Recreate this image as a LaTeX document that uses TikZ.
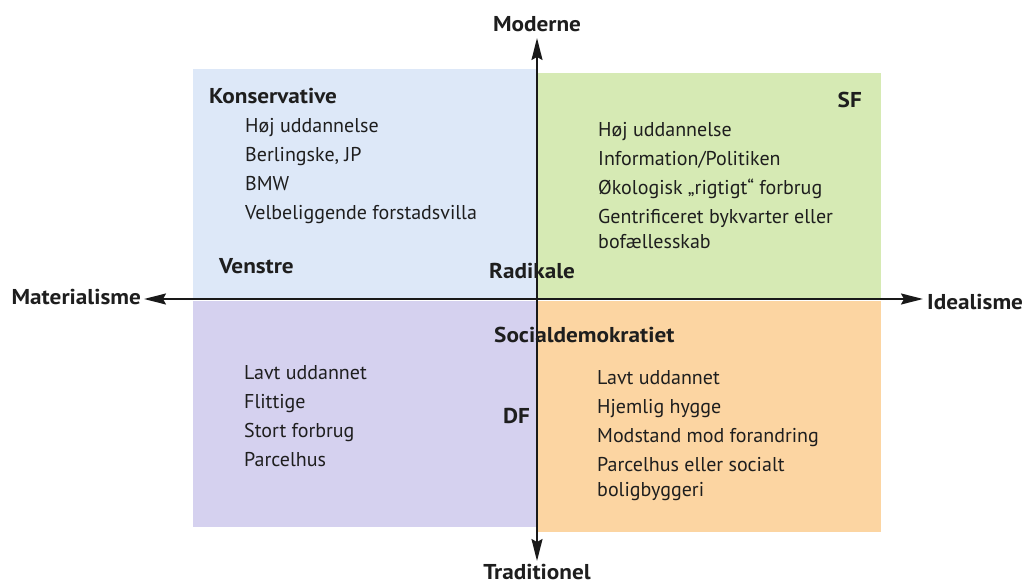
\documentclass[tikz,border=0pt]{standalone}
\usepackage{fontspec}
\setmainfont{PT Sans}[BoldFeatures={FakeStretch=1.08}]
\usetikzlibrary{arrows.meta}
\definecolor{qblue}{RGB}{221,232,248}
\definecolor{qgreen}{RGB}{214,234,180}
\definecolor{qpurple}{RGB}{213,209,239}
\definecolor{qorange}{RGB}{252,213,162}
\definecolor{txt}{RGB}{30,30,30}
\begin{document}
\begin{tikzpicture}[x=1pt,y=-1pt,
  quad/.style={draw=none,anchor=north west,inner sep=0pt},
  item/.style={anchor=base west,inner sep=0pt,align=left,text=txt,font=\fontsize{20}{29}\selectfont},
  head/.style={anchor=base west,inner sep=0pt,text=txt,font=\fontsize{21.5}{29}\selectfont\bfseries},
  axis/.style={line width=1.8pt,draw=black!90,{Stealth[length=22pt,width=11pt,inset=3pt]}-{Stealth[length=22pt,width=11pt,inset=3pt]}}
]
\useasboundingbox (0,0) rectangle (1023,585);
\fill[white] (0,0) rectangle (1023,585);
% quadrants
\node[quad,fill=qblue,minimum width=344pt,minimum height=230pt] (tl) at (193,69) {};
\node[quad,fill=qgreen,minimum width=344pt,minimum height=226pt] (tr) at (537,73) {};
\node[quad,fill=qpurple,minimum width=344pt,minimum height=226pt] (bl) at (193,301) {};
\node[quad,fill=qorange,minimum width=344pt,minimum height=231pt] (br) at (537,301) {};
% axis labels
\node[head,anchor=base] (mod) at (537,32) {Moderne};
\node[head,anchor=base] (trad) at (537,579) {Traditionel};
\node[head,anchor=base east] (mat) at (141,305) {Materialisme};
\node[head] (ide) at (927,310) {Idealisme};
\coordinate (mt) at (537,38);
\coordinate (tb) at (537,561);
\coordinate (ml) at (144,299);
\coordinate (ir) at (923,299);
\draw[axis] (ml) -- (ir);
\draw[axis] (mt) -- (tb);
% party labels
\node[head] (kons) at (209,104) {Konservative};
\node[head] (ven) at (219,274) {Venstre};
\node[head] (rad) at (489,279) {Radikale};
\node[head,anchor=base east] (sf) at (862,108) {SF};
\node[head] (soc) at (494,343) {Socialdemokratiet};
\node[head] (df) at (503,423) {DF};
% lists (base = baseline of the last line)
\node[item] (tlitems) at (245,220) {Høj uddannelse\\Berlingske, JP\\BMW\\Velbeliggende forstadsvilla};
\node[item] (tritems) at (598,249) {Høj uddannelse\\Information/Politiken\\Økologisk „rigtigt“ forbrug\\Gentrificeret bykvarter eller\\[-4pt]bofællesskab};
\node[item] (blitems) at (244,466) {Lavt uddannet\\Flittige\\Stort forbrug\\Parcelhus};
\node[item] (britems) at (597,496) {Lavt uddannet\\Hjemlig hygge\\Modstand mod forandring\\Parcelhus eller socialt\\[-4pt]boligbyggeri};
\end{tikzpicture}
\end{document}
